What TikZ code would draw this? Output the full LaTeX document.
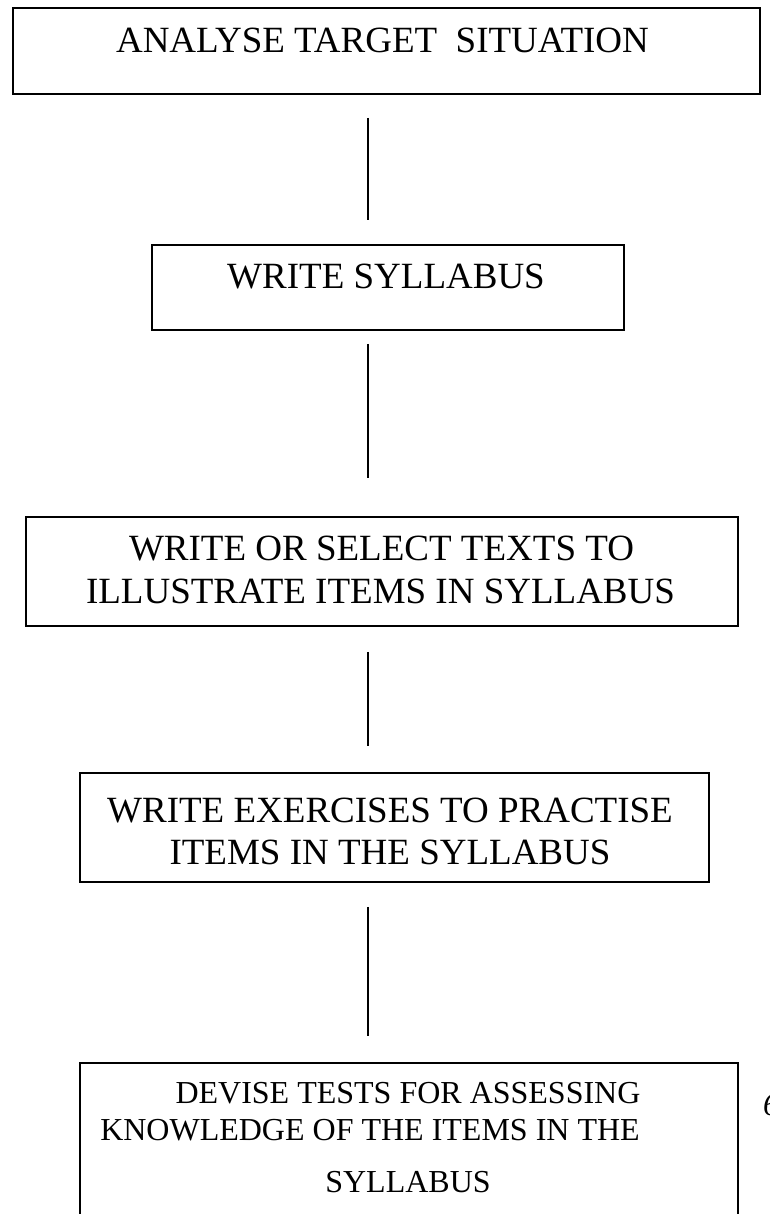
\documentclass[tikz,border=0pt]{standalone}
\usepackage{fontspec}
\setmainfont{Liberation Serif}
\usetikzlibrary{calc}
\begin{document}
\begin{tikzpicture}[x=1pt,y=-1pt,
  box/.style={draw=black, line width=1.8pt, rectangle, inner sep=0pt},
  conn/.style={draw=black, line width=1.3pt},
  big/.style={font=\fontsize{37}{42}\selectfont, inner sep=0pt, anchor=base},
  small/.style={font=\fontsize{32}{37}\selectfont, inner sep=0pt, anchor=base}]
\useasboundingbox (0,0) rectangle (770,1214);
\clip (0,0) rectangle (770,1214);
\coordinate (cx) at (368,0);
% boxes
\node[box, minimum width=747pt, minimum height=86pt] (b1) at (386.5,51) {};
\node[box, minimum width=472pt, minimum height=85pt] (b2) at (388,287.5) {};
\node[box, minimum width=712pt, minimum height=109pt] (b3) at (382,571.5) {};
\node[box, minimum width=629pt, minimum height=109pt] (b4) at (394.5,827.5) {};
\node[box, minimum width=658pt, minimum height=200pt] (b5) at (409,1163) {};
% texts
\node[big] (t1) at (382.5,53) {ANALYSE TARGET\ \ SITUATION};
\node[big] (t2) at (386,289) {WRITE SYLLABUS};
\node[big] (t3a) at (381.5,560) {WRITE OR SELECT TEXTS TO};
\node[big] (t3b) at (380.5,603) {ILLUSTRATE ITEMS IN SYLLABUS};
\node[big] (t4a) at (390,822) {WRITE EXERCISES TO PRACTISE};
\node[big] (t4b) at (390,864) {ITEMS IN THE SYLLABUS};
\node[small] (t5a) at (408,1103) {DEVISE TESTS FOR ASSESSING};
\node[small] (t5b) at (370,1140) {KNOWLEDGE OF THE ITEMS IN THE};
\node[small] (t5c) at (408,1192) {SYLLABUS};
\node[font=\itshape\fontsize{32}{37}\selectfont, inner sep=0pt, anchor=base west] (pg) at (763,1115) {6};
% connectors
\draw[conn, shorten <=23pt, shorten >=24pt] (b1.south -| cx) -- (b2.north -| cx);
\draw[conn, shorten <=13pt, shorten >=38pt] (b2.south -| cx) -- (b3.north -| cx);
\draw[conn, shorten <=25pt, shorten >=26pt] (b3.south -| cx) -- (b4.north -| cx);
\draw[conn, shorten <=24pt, shorten >=26pt] (b4.south -| cx) -- (b5.north -| cx);
\end{tikzpicture}
\end{document}
